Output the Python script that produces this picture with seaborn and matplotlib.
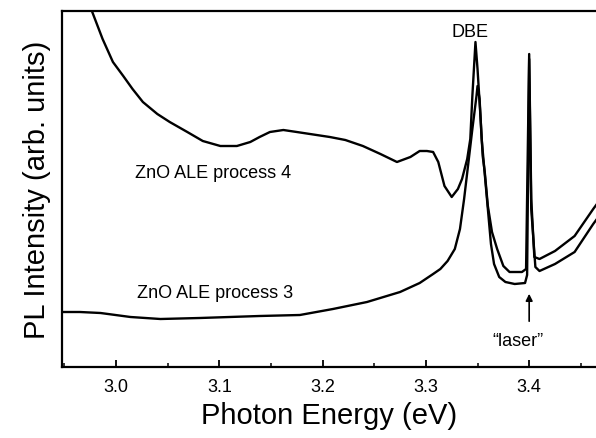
import matplotlib
matplotlib.use("Agg")
import matplotlib.pyplot as plt
import seaborn as sns
import numpy as np
import pandas as pd
from matplotlib.ticker import MultipleLocator

# ---- data ----
energy_p4 = [2.969, 2.977, 2.987, 2.997, 3.007, 3.016, 3.026, 3.040, 3.052, 3.069,
             3.084, 3.101, 3.117, 3.130, 3.139, 3.149, 3.162, 3.175, 3.207, 3.222,
             3.239, 3.256, 3.272, 3.285, 3.294,
             3.301, 3.307, 3.312, 3.318, 3.325, 3.331, 3.335, 3.340, 3.343, 3.345,
             3.348, 3.350, 3.353, 3.355, 3.357, 3.360, 3.364, 3.369, 3.375, 3.381,
             3.393, 3.397, 3.400, 3.402, 3.405, 3.410, 3.425, 3.444, 3.462, 3.467]
intensity_p4 = [378, 355, 328, 305, 291, 278, 265, 253, 245, 235,
                226, 221, 221, 225, 230, 235, 237, 235, 230, 227,
                221, 213, 205, 210, 216,
                216, 215, 205, 181, 170, 178, 188, 208, 228, 271,
                325, 298, 248, 211, 195, 161, 135, 118, 101, 95,
                95, 98, 313, 168, 110, 108, 116, 131, 158, 165]

energy_p3 = [2.948, 2.965, 2.985, 3.014, 3.043, 3.081, 3.110, 3.139, 3.178, 3.210,
             3.243, 3.275, 3.294, 3.307, 3.314, 3.321, 3.328, 3.333, 3.337, 3.341,
             3.345, 3.349, 3.350, 3.352, 3.354, 3.357, 3.360, 3.363, 3.366, 3.371,
             3.377, 3.386, 3.396, 3.398, 3.400, 3.402, 3.406, 3.410, 3.425, 3.444,
             3.462, 3.467]
intensity_p3 = [55, 55, 54, 50, 48, 49, 50, 51, 52, 58,
                65, 75, 84, 93, 98, 106, 118, 138, 168, 203,
                238, 271, 281, 268, 228, 193, 158, 123, 103, 90,
                85, 83, 84, 92, 308, 158, 100, 96, 103, 115,
                143, 150]

label_p4 = "ZnO ALE process 4"
label_p3 = "ZnO ALE process 3"
x_ticks = [3.0, 3.1, 3.2, 3.3, 3.4]
x_tick_labels = ["3.0", "3.1", "3.2", "3.3", "3.4"]

df4 = pd.DataFrame({"energy": energy_p4, "intensity": intensity_p4})
df3 = pd.DataFrame({"energy": energy_p3, "intensity": intensity_p3})

sns.set_style("ticks")
plt.rcParams["font.family"] = ["Liberation Sans", "DejaVu Sans"]
plt.rcParams["text.color"] = "black"
plt.rcParams["axes.labelcolor"] = "black"
plt.rcParams["xtick.color"] = "black"

fig = plt.figure(figsize=(5.96, 4.39), dpi=100)
ax = fig.add_axes([62/596, 1-368/439, 1-62/596, (368-12)/439])

sns.lineplot(data=df4, x="energy", y="intensity", ax=ax, color="black",
             lw=1.7, estimator=None, sort=False)
sns.lineplot(data=df3, x="energy", y="intensity", ax=ax, color="black",
             lw=1.7, estimator=None, sort=False)

ax.set_xlim(2.9477, 3.4647)
ax.set_ylim(0, 356)

ax.set_xticks(x_ticks)
ax.set_xticklabels(x_tick_labels)
ax.xaxis.set_minor_locator(MultipleLocator(0.05))
ax.tick_params(axis="x", which="major", direction="in", length=5, width=1.3,
               labelsize=13, pad=8, colors="black")
ax.tick_params(axis="x", which="minor", direction="in", length=3, width=1.1,
               colors="black")
ax.set_yticks([])

for s in ["left", "bottom", "top"]:
    ax.spines[s].set_linewidth(1.6)
    ax.spines[s].set_color("black")
ax.spines["right"].set_visible(False)

ax.set_xlabel("Photon Energy (eV)", fontsize=21, labelpad=4, color="black")
ax.set_ylabel("PL Intensity (arb. units)", fontsize=21, labelpad=8, color="black")

ax.text(3.018, 195, label_p4, fontsize=13, ha="left", va="center", color="black")
ax.text(3.020, 75, label_p3, fontsize=13, ha="left", va="center", color="black")
ax.text(3.343, 336, "DBE", fontsize=13, ha="center", va="center", color="black")
ax.text(3.389, 27, "\u201claser\u201d", fontsize=13, ha="center", va="center",
        color="black")
ax.annotate("", xy=(3.400, 76), xytext=(3.400, 43),
            arrowprops=dict(arrowstyle="-|>", color="black", lw=1.2,
                            mutation_scale=10))

fig.savefig("out.png", dpi=100)
